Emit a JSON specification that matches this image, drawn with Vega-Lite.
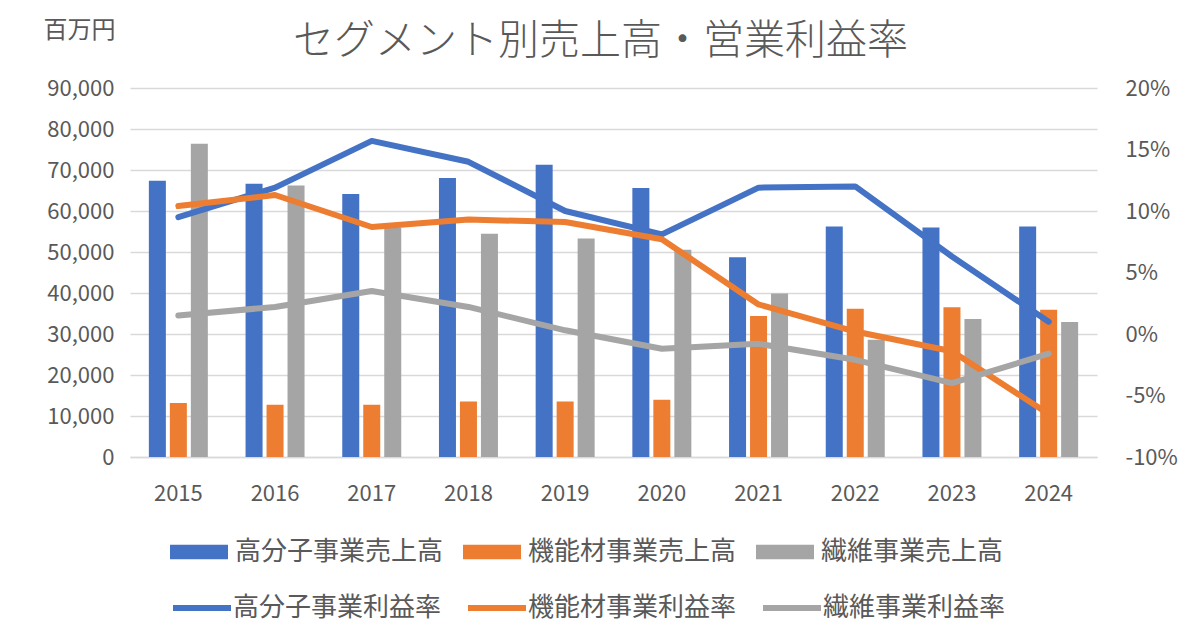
{
  "$schema": "https://vega.github.io/schema/vega-lite/v6.json",
  "width": 967,
  "height": 369,
  "autosize": {"type": "none"},
  "padding": {"left": 130, "top": 88, "right": 103, "bottom": 173},
  "background": "white",
  "config": {
    "view": {"stroke": null},
    "font": "Noto Sans CJK JP",
    "axis": {"labelFont": "Noto Sans CJK JP", "titleFont": "Noto Sans CJK JP"},
    "legend": {"labelFont": "Noto Sans CJK JP"}
  },
  "title": {
    "text": "セグメント別売上高・営業利益率",
    "font": "Noto Sans CJK JP",
    "fontSize": 41,
    "fontWeight": 300,
    "color": "#595959",
    "anchor": "middle",
    "frame": "group",
    "baseline": "top",
    "offset": 0,
    "dx": -13,
    "dy": 45
  },
  "datasets": {
    "sales": [
      {"year": "2015", "series": "高分子事業売上高", "value": 67400},
      {"year": "2016", "series": "高分子事業売上高", "value": 66650},
      {"year": "2017", "series": "高分子事業売上高", "value": 64150},
      {"year": "2018", "series": "高分子事業売上高", "value": 68050},
      {"year": "2019", "series": "高分子事業売上高", "value": 71300},
      {"year": "2020", "series": "高分子事業売上高", "value": 65600},
      {"year": "2021", "series": "高分子事業売上高", "value": 48700},
      {"year": "2022", "series": "高分子事業売上高", "value": 56250},
      {"year": "2023", "series": "高分子事業売上高", "value": 55950},
      {"year": "2024", "series": "高分子事業売上高", "value": 56250},
      {"year": "2015", "series": "機能材事業売上高", "value": 13170},
      {"year": "2016", "series": "機能材事業売上高", "value": 12750},
      {"year": "2017", "series": "機能材事業売上高", "value": 12750},
      {"year": "2018", "series": "機能材事業売上高", "value": 13550},
      {"year": "2019", "series": "機能材事業売上高", "value": 13550},
      {"year": "2020", "series": "機能材事業売上高", "value": 13950},
      {"year": "2021", "series": "機能材事業売上高", "value": 34400},
      {"year": "2022", "series": "機能材事業売上高", "value": 36150},
      {"year": "2023", "series": "機能材事業売上高", "value": 36500},
      {"year": "2024", "series": "機能材事業売上高", "value": 35900},
      {"year": "2015", "series": "繊維事業売上高", "value": 76400},
      {"year": "2016", "series": "繊維事業売上高", "value": 66250},
      {"year": "2017", "series": "繊維事業売上高", "value": 55900},
      {"year": "2018", "series": "繊維事業売上高", "value": 54450},
      {"year": "2019", "series": "繊維事業売上高", "value": 53300},
      {"year": "2020", "series": "繊維事業売上高", "value": 50550},
      {"year": "2021", "series": "繊維事業売上高", "value": 39850},
      {"year": "2022", "series": "繊維事業売上高", "value": 28600},
      {"year": "2023", "series": "繊維事業売上高", "value": 33650},
      {"year": "2024", "series": "繊維事業売上高", "value": 32950}
    ],
    "margin": [
      {"year": "2015", "series": "高分子事業利益率", "value": 0.095},
      {"year": "2016", "series": "高分子事業利益率", "value": 0.119},
      {"year": "2017", "series": "高分子事業利益率", "value": 0.157},
      {"year": "2018", "series": "高分子事業利益率", "value": 0.140},
      {"year": "2019", "series": "高分子事業利益率", "value": 0.100},
      {"year": "2020", "series": "高分子事業利益率", "value": 0.081},
      {"year": "2021", "series": "高分子事業利益率", "value": 0.119},
      {"year": "2022", "series": "高分子事業利益率", "value": 0.120},
      {"year": "2023", "series": "高分子事業利益率", "value": 0.063},
      {"year": "2024", "series": "高分子事業利益率", "value": 0.010},
      {"year": "2015", "series": "機能材事業利益率", "value": 0.104},
      {"year": "2016", "series": "機能材事業利益率", "value": 0.113},
      {"year": "2017", "series": "機能材事業利益率", "value": 0.087},
      {"year": "2018", "series": "機能材事業利益率", "value": 0.093},
      {"year": "2019", "series": "機能材事業利益率", "value": 0.091},
      {"year": "2020", "series": "機能材事業利益率", "value": 0.077},
      {"year": "2021", "series": "機能材事業利益率", "value": 0.024},
      {"year": "2022", "series": "機能材事業利益率", "value": 0.002},
      {"year": "2023", "series": "機能材事業利益率", "value": -0.014},
      {"year": "2024", "series": "機能材事業利益率", "value": -0.065},
      {"year": "2015", "series": "繊維事業利益率", "value": 0.015},
      {"year": "2016", "series": "繊維事業利益率", "value": 0.022},
      {"year": "2017", "series": "繊維事業利益率", "value": 0.035},
      {"year": "2018", "series": "繊維事業利益率", "value": 0.022},
      {"year": "2019", "series": "繊維事業利益率", "value": 0.003},
      {"year": "2020", "series": "繊維事業利益率", "value": -0.012},
      {"year": "2021", "series": "繊維事業利益率", "value": -0.008},
      {"year": "2022", "series": "繊維事業利益率", "value": -0.021},
      {"year": "2023", "series": "繊維事業利益率", "value": -0.040},
      {"year": "2024", "series": "繊維事業利益率", "value": -0.016}
    ]
  },
  "encoding": {
    "x": {
      "field": "year",
      "type": "ordinal",
      "scale": {"paddingInner": 0.39, "paddingOuter": 0.195},
      "axis": {
        "title": null,
        "labelAngle": 0,
        "labelFontSize": 22,
        "labelColor": "#595959",
        "labelPadding": 26,
        "ticks": false,
        "domain": true,
        "domainColor": "#D9D9D9",
        "domainWidth": 1.5,
        "grid": false
      }
    }
  },
  "layer": [
    {
      "data": {"name": "sales"},
      "mark": {"type": "bar"},
      "encoding": {
        "xOffset": {
          "field": "series",
          "type": "nominal",
          "sort": ["高分子事業売上高", "機能材事業売上高", "繊維事業売上高"],
          "scale": {"paddingInner": 0.19, "paddingOuter": 0}
        },
        "y": {
          "field": "value",
          "type": "quantitative",
          "scale": {"domain": [0, 90000]},
          "axis": {
            "values": [0, 10000, 20000, 30000, 40000, 50000, 60000, 70000, 80000, 90000],
            "format": ",.0f",
            "grid": true,
            "gridColor": "#D9D9D9",
            "gridWidth": 1.5,
            "domain": false,
            "ticks": false,
            "labelFontSize": 22,
            "labelColor": "#595959",
            "labelPadding": 16,
            "title": "百万円",
            "titleAngle": 0,
            "titleAlign": "left",
            "titleBaseline": "top",
            "titleX": -87,
            "titleY": -70,
            "titleFontSize": 24,
            "titleFontWeight": "normal",
            "titleColor": "#595959"
          }
        },
        "color": {
          "field": "series",
          "type": "nominal",
          "sort": ["高分子事業売上高", "機能材事業売上高", "繊維事業売上高"],
          "scale": {
            "domain": ["高分子事業売上高", "機能材事業売上高", "繊維事業売上高"],
            "range": ["#4472C4", "#ED7D31", "#A5A5A5"]
          },
          "legend": {
            "title": null,
            "orient": "none",
            "direction": "horizontal",
            "legendX": 40,
            "legendY": 435,
            "symbolType": "M-1,-0.25H1V0.25H-1Z",
            "symbolSize": 3364,
            "symbolStrokeWidth": 0,
            "labelFontSize": 26,
            "labelColor": "#595959",
            "labelOffset": 7,
            "labelLimit": 400,
            "columnPadding": 19
          }
        }
      }
    },
    {
      "data": {"name": "margin"},
      "mark": {"type": "line", "strokeWidth": 6, "strokeCap": "round", "strokeJoin": "round"},
      "encoding": {
        "y": {
          "field": "value",
          "type": "quantitative",
          "scale": {"domain": [-0.1, 0.2]},
          "axis": {
            "orient": "right",
            "values": [-0.1, -0.05, 0, 0.05, 0.1, 0.15, 0.2],
            "format": ".0%",
            "labelExpr": "replace(datum.label, '−', '-')",
            "grid": false,
            "domain": false,
            "ticks": false,
            "labelFontSize": 22,
            "labelColor": "#595959",
            "labelPadding": 28,
            "title": null
          }
        },
        "color": {
          "field": "series",
          "type": "nominal",
          "sort": ["高分子事業利益率", "機能材事業利益率", "繊維事業利益率"],
          "scale": {
            "domain": ["高分子事業利益率", "機能材事業利益率", "繊維事業利益率"],
            "range": ["#4472C4", "#ED7D31", "#A5A5A5"]
          },
          "legend": {
            "title": null,
            "orient": "none",
            "direction": "horizontal",
            "legendX": 40,
            "legendY": 488,
            "symbolType": "stroke",
            "symbolSize": 3364,
            "symbolStrokeWidth": 6,
            "labelFontSize": 26,
            "labelColor": "#595959",
            "labelOffset": -1,
            "labelLimit": 400,
            "columnPadding": 14
          }
        }
      }
    }
  ],
  "resolve": {
    "scale": {"y": "independent", "color": "independent", "xOffset": "independent"},
    "legend": {"color": "independent"}
  }
}
